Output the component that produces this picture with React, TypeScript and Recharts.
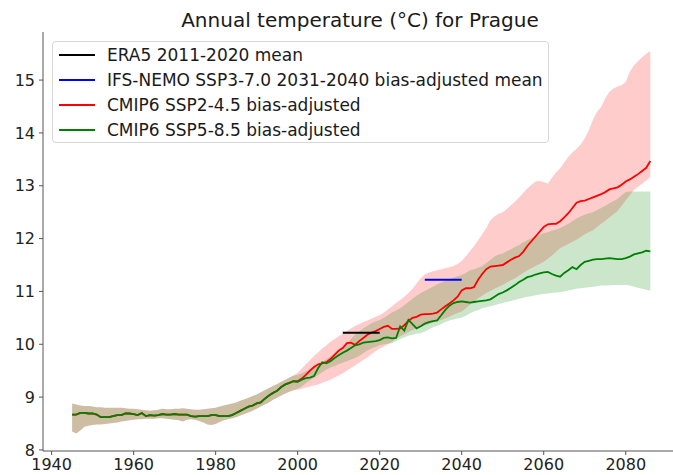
import React from 'react';
import { ComposedChart, Area, Line, XAxis, YAxis, Legend } from 'recharts';

const HIST_START = 1945;
const SCEN_START = 2000;

// historical ensemble, same for both scenarios (1945-1999)
const histMean = [
  8.67, 8.67, 8.70, 8.70, 8.69,
  8.69, 8.67, 8.62, 8.62, 8.62, 8.64, 8.66, 8.66, 8.69, 8.69,
  8.68, 8.66, 8.70, 8.64, 8.66, 8.65, 8.66, 8.68, 8.67, 8.67,
  8.68, 8.67, 8.67, 8.67, 8.64, 8.63, 8.64, 8.64, 8.64, 8.66,
  8.66, 8.64, 8.64, 8.64, 8.66, 8.70, 8.74, 8.78, 8.82, 8.84,
  8.88, 8.90, 8.97, 9.03, 9.08, 9.12, 9.19, 9.24, 9.27, 9.30,
];
const histLow = [
  8.35, 8.31, 8.37, 8.44, 8.46,
  8.47, 8.48, 8.48, 8.49, 8.50, 8.51, 8.52, 8.54, 8.55, 8.56,
  8.57, 8.58, 8.58, 8.59, 8.59, 8.59, 8.60, 8.60, 8.59, 8.58,
  8.57, 8.56, 8.54, 8.57, 8.58, 8.57, 8.55, 8.52, 8.48, 8.47,
  8.49, 8.53, 8.56, 8.58, 8.60, 8.62, 8.65, 8.68, 8.71, 8.74,
  8.78, 8.82, 8.86, 8.90, 8.95, 8.99, 9.03, 9.07, 9.10, 9.13,
];
const histHigh = [
  8.88, 8.86, 8.84, 8.83, 8.83,
  8.82, 8.81, 8.81, 8.80, 8.80, 8.80, 8.80, 8.80, 8.79, 8.78,
  8.78, 8.77, 8.76, 8.75, 8.74, 8.75, 8.76, 8.78, 8.77, 8.77,
  8.78, 8.78, 8.79, 8.78, 8.77, 8.76, 8.76, 8.77, 8.78, 8.79,
  8.80, 8.82, 8.84, 8.86, 8.88, 8.90, 8.93, 8.96, 8.99, 9.02,
  9.05, 9.09, 9.13, 9.17, 9.21, 9.25, 9.29, 9.33, 9.37, 9.41,
];

// CMIP6 SSP2-4.5, 2000-2086
const ssp245Mean = [
  9.30, 9.35, 9.42, 9.50, 9.57, 9.62, 9.64, 9.66, 9.72, 9.80,
  9.88, 9.93, 10.02, 10.03, 9.99, 10.06, 10.12, 10.18, 10.22, 10.25,
  10.29, 10.33, 10.35, 10.29, 10.29, 10.30, 10.36, 10.44, 10.50, 10.52,
  10.56, 10.57, 10.57, 10.58, 10.60, 10.66, 10.72, 10.77, 10.83, 10.90,
  11.02, 11.06, 11.06, 11.08, 11.22, 11.33, 11.42, 11.47, 11.48, 11.49,
  11.50, 11.55, 11.60, 11.64, 11.67, 11.75, 11.86, 11.95, 12.04, 12.13,
  12.22, 12.27, 12.28, 12.28, 12.33, 12.40, 12.48, 12.58, 12.68, 12.71,
  12.72, 12.75, 12.78, 12.81, 12.84, 12.88, 12.93, 12.95, 12.97, 13.02,
  13.08, 13.12, 13.17, 13.22, 13.28, 13.34, 13.47,
];
const ssp245Low = [
  9.14, 9.16, 9.18, 9.20, 9.22, 9.24, 9.27, 9.30, 9.33, 9.37,
  9.41, 9.45, 9.50, 9.55, 9.60, 9.65, 9.70, 9.75, 9.81, 9.87,
  9.92, 9.96, 10.00, 10.05, 10.10, 10.15, 10.19, 10.23, 10.27, 10.30,
  10.33, 10.36, 10.38, 10.41, 10.43, 10.46, 10.49, 10.52, 10.56, 10.59,
  10.62, 10.68, 10.75, 10.81, 10.87, 10.92, 10.97, 11.01, 11.05, 11.09,
  11.12, 11.17, 11.21, 11.25, 11.30, 11.35, 11.40, 11.44, 11.48, 11.52,
  11.56, 11.62, 11.68, 11.75, 11.82, 11.86, 11.90, 11.94, 11.98, 12.03,
  12.08, 12.12, 12.16, 12.22, 12.28, 12.34, 12.40, 12.46, 12.52, 12.62,
  12.72, 12.82, 12.92, 12.98, 13.04, 13.10, 13.16,
];
const ssp245High = [
  9.46, 9.54, 9.62, 9.70, 9.78, 9.85, 9.92, 9.98, 10.05, 10.10,
  10.15, 10.20, 10.25, 10.30, 10.35, 10.38, 10.42, 10.45, 10.49, 10.52,
  10.55, 10.60, 10.66, 10.72, 10.78, 10.84, 10.90, 10.97, 11.05, 11.15,
  11.25, 11.32, 11.36, 11.38, 11.40, 11.42, 11.44, 11.46, 11.48, 11.52,
  11.58, 11.66, 11.76, 11.86, 11.97, 12.08, 12.20, 12.35, 12.42, 12.47,
  12.50, 12.56, 12.63, 12.70, 12.78, 12.87, 12.95, 13.02, 13.08, 13.09,
  13.07, 13.04, 13.15, 13.25, 13.33, 13.44, 13.55, 13.63, 13.70, 13.78,
  13.90, 14.05, 14.25, 14.40, 14.49, 14.65, 14.78, 14.84, 14.88, 14.90,
  14.97, 15.16, 15.28, 15.36, 15.43, 15.50, 15.55,
];

// CMIP6 SSP5-8.5, 2000-2086
const ssp585Mean = [
  9.29, 9.33, 9.36, 9.37, 9.40, 9.55, 9.66, 9.64, 9.68, 9.74,
  9.79, 9.84, 9.88, 9.93, 9.98, 10.00, 10.03, 10.04, 10.05, 10.06,
  10.08, 10.12, 10.13, 10.11, 10.12, 10.34, 10.26, 10.46, 10.38, 10.30,
  10.34, 10.39, 10.42, 10.44, 10.45, 10.55, 10.65, 10.73, 10.78, 10.80,
  10.81, 10.80, 10.79, 10.80, 10.81, 10.82, 10.83, 10.85, 10.90, 10.95,
  10.98, 11.02, 11.07, 11.12, 11.18, 11.22, 11.27, 11.29, 11.32, 11.34,
  11.36, 11.37, 11.33, 11.30, 11.28, 11.35, 11.40, 11.46, 11.42, 11.50,
  11.56, 11.58, 11.60, 11.61, 11.61, 11.62, 11.63, 11.62, 11.61, 11.61,
  11.63, 11.66, 11.70, 11.72, 11.74, 11.77, 11.76,
];
const ssp585Low = [
  9.16, 9.20, 9.26, 9.32, 9.37, 9.42, 9.47, 9.52, 9.56, 9.59,
  9.62, 9.65, 9.68, 9.71, 9.74, 9.78, 9.83, 9.88, 9.92, 9.95,
  9.98, 10.00, 10.01, 10.02, 10.06, 10.10, 10.13, 10.16, 10.18, 10.20,
  10.21, 10.24, 10.28, 10.32, 10.35, 10.38, 10.42, 10.45, 10.47, 10.49,
  10.50, 10.54, 10.58, 10.62, 10.65, 10.68, 10.70, 10.72, 10.74, 10.76,
  10.78, 10.80, 10.82, 10.84, 10.86, 10.88, 10.90, 10.91, 10.93, 10.94,
  10.95, 10.96, 10.97, 10.98, 10.99, 11.00, 11.02, 11.03, 11.05, 11.06,
  11.07, 11.08, 11.09, 11.10, 11.11, 11.11, 11.11, 11.12, 11.12, 11.12,
  11.12, 11.11, 11.09, 11.07, 11.05, 11.03, 11.02,
];
const ssp585High = [
  9.42, 9.45, 9.49, 9.53, 9.56, 9.60, 9.66, 9.72, 9.77, 9.83,
  9.90, 9.96, 10.02, 10.10, 10.18, 10.24, 10.30, 10.35, 10.40, 10.43,
  10.46, 10.50, 10.55, 10.60, 10.64, 10.68, 10.74, 10.80, 10.86, 10.92,
  10.97, 11.01, 11.05, 11.09, 11.13, 11.17, 11.20, 11.23, 11.26, 11.29,
  11.31, 11.35, 11.40, 11.42, 11.45, 11.48, 11.54, 11.60, 11.66, 11.70,
  11.72, 11.76, 11.80, 11.84, 11.88, 11.93, 11.97, 12.01, 12.04, 12.07,
  12.10, 12.12, 12.15, 12.17, 12.20, 12.24, 12.28, 12.33, 12.38, 12.42,
  12.45, 12.48, 12.50, 12.54, 12.58, 12.62, 12.67, 12.71, 12.75, 12.82,
  12.88, 12.89, 12.89, 12.89, 12.89, 12.89, 12.89,
];

const era5Period = [2011, 2020];
const era5Mean = 10.22;
const ifsPeriod = [2031, 2040];
const ifsMean = 11.22;

const xTicks = [1940, 1960, 1980, 2000, 2020, 2040, 2060, 2080];
const yTicks = [8, 9, 10, 11, 12, 13, 14, 15];

const legendItems = [
  { label: 'ERA5 2011-2020 mean', color: '#000000' },
  { label: 'IFS-NEMO SSP3-7.0 2031-2040 bias-adjusted mean', color: '#0000ff' },
  { label: 'CMIP6 SSP2-4.5 bias-adjusted', color: '#ff0000' },
  { label: 'CMIP6 SSP5-8.5 bias-adjusted', color: '#008000' },
];

const inPeriod = (year: number, period: number[], value: number) =>
  year >= period[0] && year <= period[1] ? value : null;

const chartData: any[] = [];
histMean.forEach((v, i) => {
  const year = HIST_START + i;
  chartData.push({
    year,
    r45: v,
    r45Band: [histLow[i], histHigh[i]],
    r85: v,
    r85Band: [histLow[i], histHigh[i]],
    era5: null,
    ifs: null,
  });
});
ssp245Mean.forEach((v, i) => {
  const year = SCEN_START + i;
  chartData.push({
    year,
    r45: v,
    r45Band: [ssp245Low[i], ssp245High[i]],
    r85: ssp585Mean[i],
    r85Band: [ssp585Low[i], ssp585High[i]],
    era5: inPeriod(year, era5Period, era5Mean),
    ifs: inPeriod(year, ifsPeriod, ifsMean),
  });
});

const FONT = '"DejaVu Sans", sans-serif';

function LegendBox() {
  return (
    <div
      style={{
        width: 497,
        height: 102,
        boxSizing: 'border-box',
        border: '1px solid #d6d6d6',
        borderRadius: 4,
        background: 'rgba(255,255,255,0.8)',
        fontFamily: FONT,
        fontSize: 17,
        color: '#1a1a1a',
      }}
    >
      {legendItems.map((item) => (
        <div key={item.label} style={{ display: 'flex', alignItems: 'center', height: 25 }}>
          <span style={{ width: 36, height: 2, background: item.color, marginLeft: 6, marginRight: 12 }} />
          <span style={{ whiteSpace: 'nowrap' }}>{item.label}</span>
        </div>
      ))}
    </div>
  );
}

export default function App() {
  return (
    <div style={{ position: 'absolute', left: 0, top: 0, width: 673, height: 475, overflow: 'hidden', background: '#fff' }}>
      <div
        style={{
          position: 'absolute',
          left: 0,
          width: 720,
          top: 7,
          textAlign: 'center',
          fontFamily: FONT,
          fontSize: 20,
          lineHeight: '26px',
          color: '#1a1a1a',
          zIndex: 2,
        }}
      >
        Annual temperature (°C) for Prague
      </div>
      <ComposedChart width={680} height={475} data={chartData} margin={{ top: 32, right: 3, bottom: 0, left: 0 }}>
        <XAxis
          dataKey="year"
          type="number"
          domain={[1937.9, 2092.5]}
          ticks={xTicks}
          interval={0}
          allowDataOverflow
          height={24}
          tickSize={4}
          tickMargin={4}
          stroke="#555"
          tick={{ fill: '#222', fontSize: 16, fontFamily: FONT }}
        />
        <XAxis
          xAxisId="top"
          orientation="top"
          dataKey="year"
          type="number"
          domain={[1937.9, 2092.5]}
          height={0}
          tick={false}
          tickLine={false}
          stroke="#555"
        />
        <YAxis
          type="number"
          domain={[7.98, 15.91]}
          ticks={yTicks}
          interval={0}
          allowDataOverflow
          width={43}
          tickSize={4}
          tickMargin={4}
          stroke="#555"
          tick={{ fill: '#222', fontSize: 16, fontFamily: FONT }}
        />
        <Legend
          layout="horizontal"
          verticalAlign="middle"
          align="center"
          wrapperStyle={{ left: 52, top: 41, width: 497 }}
          content={() => <LegendBox />}
        />
        <Area type="linear" dataKey="r45Band" fill="#ff0000" fillOpacity={0.2} stroke="none" isAnimationActive={false} />
        <Area type="linear" dataKey="r85Band" fill="#008000" fillOpacity={0.2} stroke="none" isAnimationActive={false} />
        <Line type="linear" dataKey="r45" stroke="#ff0000" strokeWidth={1.8} dot={false} isAnimationActive={false} />
        <Line type="linear" dataKey="r85" stroke="#008000" strokeWidth={1.8} dot={false} isAnimationActive={false} />
        <Line type="linear" dataKey="era5" stroke="#000000" strokeWidth={2} dot={false} isAnimationActive={false} />
        <Line type="linear" dataKey="ifs" stroke="#0000ff" strokeWidth={2} dot={false} isAnimationActive={false} />
      </ComposedChart>
    </div>
  );
}
